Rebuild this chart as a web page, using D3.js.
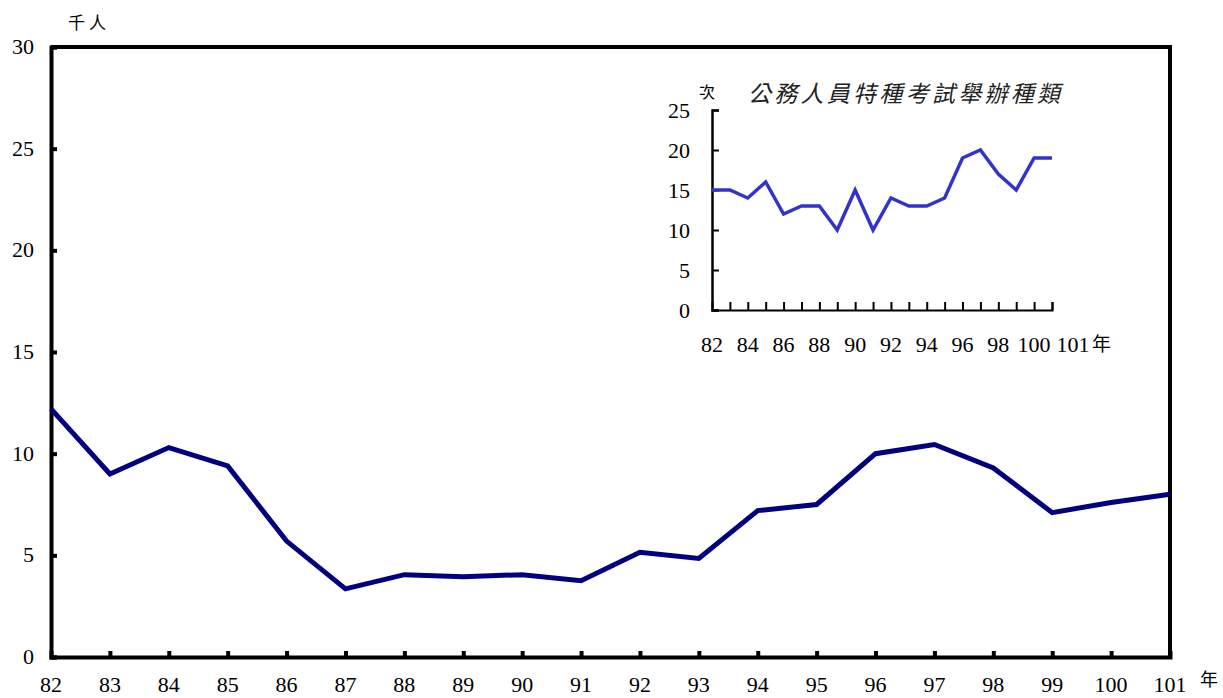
<!DOCTYPE html>
<html>
<head>
<meta charset="utf-8">
<title>公務人員特種考試</title>
<script src="https://d3js.org/d3.v7.min.js"></script>
<style>
  body { margin: 0; background: #fff; }
</style>
</head>
<body>
<div id="chart"></div>
<script>
// 年度 (民國)
const years = [82, 83, 84, 85, 86, 87, 88, 89, 90, 91, 92, 93, 94, 95, 96, 97, 98, 99, 100, 101];
// 到考人數 (千人)
const persons = [12.2, 9.0, 10.3, 9.4, 5.7, 3.35, 4.05, 3.95, 4.05, 3.75, 5.15, 4.85, 7.2, 7.5, 10.0, 10.45, 9.3, 7.1, 7.6, 8.0];
// 舉辦種類 (次)
const kinds = [15, 15, 14, 16, 12, 13, 13, 10, 15, 10, 14, 13, 13, 14, 19, 20, 17, 15, 19, 19];
const mainYTicks = [0, 5, 10, 15, 20, 25, 30];
const insetYTicks = [0, 5, 10, 15, 20, 25];
const insetXLabels = [82, 84, 86, 88, 90, 92, 94, 96, 98, 100];

const SERIF = "'Liberation Serif', 'DejaVu Serif', serif";
const CJK = "'Noto Sans CJK TC', 'Noto Sans CJK SC', sans-serif";

const W = 1223, H = 698;
const svg = d3.select("#chart").append("svg")
    .attr("width", W).attr("height", H);

// ---- 主圖 ----
const x = d3.scalePoint().domain(years).range([51, 1170]);
const y = d3.scaleLinear().domain([0, 30]).range([657, 47]);

// 外框 (上、右)
svg.append("path")
    .attr("d", "M" + x(82) + "," + y(30) + "H" + x(101) + "V" + y(0))
    .attr("fill", "none").attr("stroke", "#000").attr("stroke-width", 4);

const yAxis = svg.append("g")
    .attr("transform", "translate(" + x(82) + ",0)")
    .call(d3.axisRight(y).tickValues(mainYTicks).tickSize(6).tickFormat(""));
yAxis.select(".domain").attr("stroke-width", 4);
yAxis.selectAll(".tick line").attr("stroke-width", 4);

svg.selectAll(".ylab").data(mainYTicks).enter().append("text")
    .attr("class", "ylab")
    .attr("x", 34).attr("y", d => y(d) + 7)
    .attr("text-anchor", "end").attr("font-size", 22)
    .style("font-family", SERIF)
    .text(d => d);

const xAxis = svg.append("g")
    .attr("transform", "translate(0," + y(0) + ")")
    .call(d3.axisTop(x).tickValues(years.slice(1, -1)).tickSize(6).tickFormat(""));
xAxis.select(".domain").attr("stroke-width", 4);
xAxis.selectAll(".tick line").attr("stroke-width", 4);

svg.selectAll(".xlab").data(years).enter().append("text")
    .attr("class", "xlab")
    .attr("x", d => x(d)).attr("y", 692)
    .attr("text-anchor", "middle").attr("font-size", 22)
    .style("font-family", SERIF)
    .text(d => d);

svg.append("text").attr("x", 68).attr("y", 29)
    .attr("font-size", 17).attr("letter-spacing", 4)
    .style("font-family", CJK).text("千人");
svg.append("text").attr("x", 1200).attr("y", 686)
    .attr("font-size", 18)
    .style("font-family", CJK).text("年");

svg.append("path")
    .datum(persons)
    .attr("fill", "none").attr("stroke", "#000080").attr("stroke-width", 5)
    .attr("d", d3.line().x((d, i) => x(years[i])).y(d => y(d)));

// ---- 小圖 ----
const ix = d3.scalePoint().domain(years).range([712, 1052]);
const iy = d3.scaleLinear().domain([0, 25]).range([310, 110]);

const iyAxis = svg.append("g")
    .attr("transform", "translate(" + ix(82) + ",0)")
    .call(d3.axisRight(iy).tickValues(insetYTicks).tickSize(7).tickFormat(""));
iyAxis.select(".domain").attr("stroke-width", 2.5);
iyAxis.selectAll(".tick line").attr("stroke-width", 2);

svg.selectAll(".iylab").data(insetYTicks).enter().append("text")
    .attr("class", "iylab")
    .attr("x", 690).attr("y", d => iy(d) + 8)
    .attr("text-anchor", "end").attr("font-size", 22)
    .style("font-family", SERIF)
    .text(d => d);

const ixAxis = svg.append("g")
    .attr("transform", "translate(0," + iy(0) + ")")
    .call(d3.axisTop(ix).tickValues(years.slice(1)).tickSize(8).tickFormat(""));
ixAxis.select(".domain").attr("stroke-width", 2);
ixAxis.selectAll(".tick line").attr("stroke-width", 2);

svg.selectAll(".ixlab").data(insetXLabels).enter().append("text")
    .attr("class", "ixlab")
    .attr("x", d => ix(d)).attr("y", 352)
    .attr("text-anchor", "middle").attr("font-size", 22)
    .style("font-family", SERIF)
    .text(d => d);
svg.append("text").attr("x", ix(101) + 21).attr("y", 352)
    .attr("text-anchor", "middle").attr("font-size", 22)
    .style("font-family", SERIF).text("101");
svg.append("text").attr("x", ix(101) + 40).attr("y", 351)
    .attr("font-size", 19)
    .style("font-family", CJK).text("年");

svg.append("text").attr("x", 699).attr("y", 98)
    .attr("font-size", 16)
    .style("font-family", CJK).text("次");
svg.append("text").attr("x", 748).attr("y", 102)
    .attr("font-size", 23).attr("font-style", "italic").attr("fill", "#222")
    .attr("textLength", 312)
    .style("font-family", CJK).text("公務人員特種考試舉辦種類");

svg.append("path")
    .datum(kinds)
    .attr("fill", "none").attr("stroke", "#3333CC").attr("stroke-width", 3.5)
    .attr("d", d3.line().x((d, i) => ix(years[i])).y(d => iy(d)));
</script>
</body>
</html>
